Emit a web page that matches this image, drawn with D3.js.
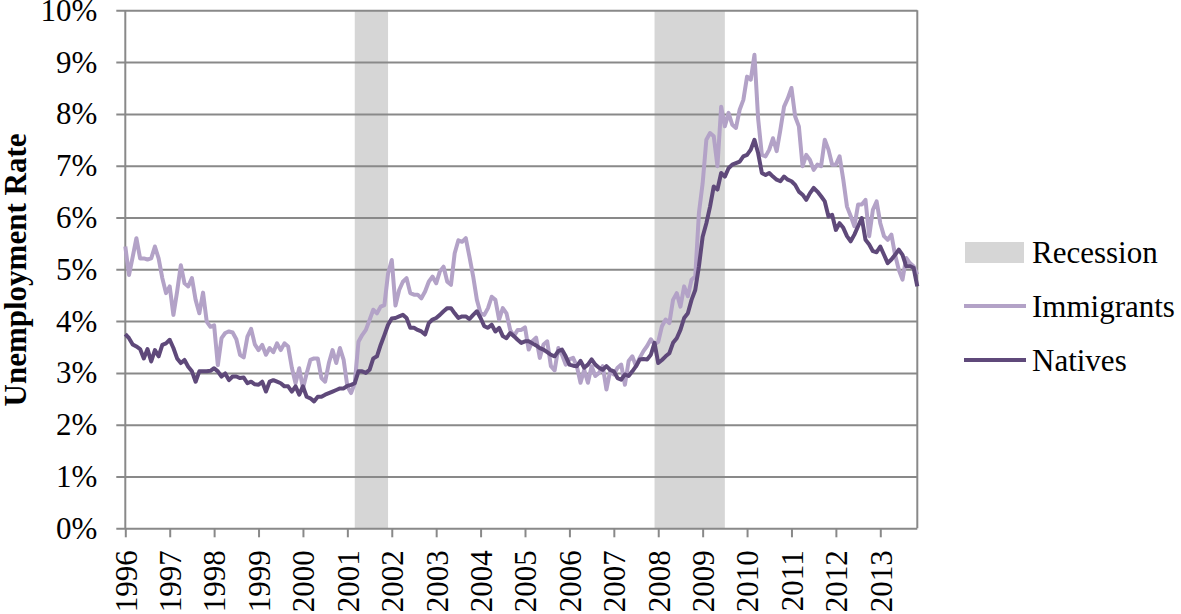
<!DOCTYPE html>
<html>
<head>
<meta charset="utf-8">
<script src="https://cdn.jsdelivr.net/npm/d3@7"></script>
<style>
    body { margin: 0; background: #fff; }
    svg { display: block; font-family: "Liberation Serif", "Times New Roman", serif; }
</style>
</head>
<body>
<svg id="chart" width="1181" height="614"></svg>
<script>
const years = ['1996', '1997', '1998', '1999', '2000', '2001', '2002', '2003', '2004',
    '2005', '2006', '2007', '2008', '2009', '2010', '2011', '2012', '2013'];
const yTicks = [0, 1, 2, 3, 4, 5, 6, 7, 8, 9, 10];
const seriesNames = ['Immigrants', 'Natives'];
const seriesColors = ['#b3a2c7', '#5f497a'];
const recessionColor = '#d6d6d6';

// monthly rates, Jan 1996 .. Nov 2013 (percent)
const immigrants = [
    5.44, 4.89, 5.24, 5.60, 5.21, 5.21, 5.19, 5.21, 5.44, 5.21, 4.83, 4.54,
    4.67, 4.12, 4.57, 5.08, 4.73, 4.67, 4.83, 4.41, 4.15, 4.55, 3.99, 3.89,
    3.92, 3.15, 3.67, 3.77, 3.80, 3.78, 3.65, 3.35, 3.30, 3.70, 3.85, 3.55,
    3.44, 3.54, 3.35, 3.48, 3.40, 3.57, 3.44, 3.57, 3.51, 3.10, 2.80, 3.09,
    2.70, 2.99, 3.25, 3.28, 3.28, 2.90, 2.83, 3.19, 3.44, 3.19, 3.48, 3.25,
    2.74, 2.61, 2.80, 3.60, 3.73, 3.83, 4.02, 4.22, 4.15, 4.28, 4.31, 4.92,
    5.18, 4.30, 4.60, 4.76, 4.83, 4.54, 4.51, 4.51, 4.44, 4.57, 4.76, 4.86,
    4.73, 4.96, 5.05, 4.76, 4.70, 5.31, 5.56, 5.53, 5.60, 5.24, 4.86, 4.41,
    4.15, 4.12, 4.25, 4.47, 4.41, 4.03, 4.25, 4.15, 3.83, 3.71, 3.83, 3.83,
    3.88, 3.45, 3.61, 3.68, 3.29, 3.55, 3.61, 3.13, 3.05, 3.48, 3.35, 3.16,
    3.26, 3.29, 3.13, 2.81, 3.06, 2.81, 3.13, 2.94, 3.00, 3.13, 2.68, 3.03,
    2.97, 3.10, 3.16, 2.77, 3.23, 3.32, 3.13, 3.29, 3.42, 3.52, 3.65, 3.55,
    3.60, 3.90, 4.03, 3.96, 4.41, 4.54, 4.28, 4.67, 4.48, 4.80, 4.86, 6.09,
    6.66, 7.50, 7.63, 7.57, 6.99, 8.14, 7.76, 8.02, 7.79, 7.73, 8.08, 8.27,
    8.72, 8.66, 9.14, 7.90, 7.21, 7.18, 7.31, 7.53, 7.28, 7.69, 8.14, 8.30,
    8.50, 7.95, 7.76, 6.99, 7.21, 7.11, 6.92, 7.02, 6.99, 7.50, 7.31, 7.02,
    7.02, 7.18, 6.73, 6.21, 6.03, 5.83, 6.25, 6.25, 6.34, 5.64, 6.15, 6.31,
    5.89, 5.64, 5.57, 5.67, 5.28, 4.99, 4.80, 5.22, 5.12, 5.06, 4.90
];
const natives = [
    3.75, 3.67, 3.55, 3.51, 3.46, 3.28, 3.46, 3.22, 3.44, 3.32, 3.54, 3.57,
    3.64, 3.48, 3.28, 3.19, 3.25, 3.12, 3.03, 2.83, 3.03, 3.03, 3.03, 3.04,
    3.09, 3.03, 2.93, 2.99, 2.86, 2.93, 2.93, 2.90, 2.91, 2.80, 2.83, 2.78,
    2.77, 2.83, 2.64, 2.83, 2.86, 2.83, 2.80, 2.74, 2.74, 2.64, 2.74, 2.58,
    2.74, 2.54, 2.51, 2.45, 2.54, 2.54, 2.58, 2.61, 2.64, 2.67, 2.70, 2.70,
    2.75, 2.77, 2.80, 3.03, 3.03, 3.00, 3.06, 3.28, 3.32, 3.54, 3.73, 3.93,
    4.05, 4.06, 4.09, 4.12, 4.06, 3.87, 3.87, 3.83, 3.80, 3.74, 3.96, 4.03,
    4.06, 4.12, 4.19, 4.25, 4.25, 4.15, 4.06, 4.09, 4.09, 4.04, 4.12, 4.19,
    4.06, 3.90, 3.87, 3.93, 3.80, 3.87, 3.71, 3.67, 3.77, 3.71, 3.64, 3.58,
    3.61, 3.61, 3.57, 3.53, 3.48, 3.45, 3.40, 3.35, 3.32, 3.42, 3.45, 3.32,
    3.16, 3.14, 3.13, 3.23, 3.10, 3.16, 3.26, 3.16, 3.10, 3.06, 3.13, 3.06,
    3.03, 2.90, 2.87, 2.97, 2.94, 3.03, 3.13, 3.26, 3.27, 3.26, 3.35, 3.58,
    3.19, 3.25, 3.32, 3.38, 3.58, 3.67, 3.83, 4.06, 4.15, 4.41, 4.60, 5.06,
    5.63, 5.89, 6.21, 6.60, 6.54, 6.86, 6.79, 6.95, 7.02, 7.05, 7.08, 7.18,
    7.21, 7.31, 7.50, 7.24, 6.86, 6.82, 6.86, 6.79, 6.73, 6.70, 6.79, 6.73,
    6.70, 6.63, 6.50, 6.44, 6.34, 6.47, 6.57, 6.50, 6.41, 6.31, 6.02, 6.05,
    5.76, 5.89, 5.80, 5.64, 5.54, 5.67, 5.83, 5.99, 5.57, 5.48, 5.35, 5.33,
    5.44, 5.28, 5.12, 5.19, 5.28, 5.38, 5.28, 5.06, 5.06, 5.03, 4.67
];
// NBER recessions, [first month, month after end]
const recessions = [['2001-03', '2001-12'], ['2007-12', '2009-07']];

(function () {
    let svg = d3.select('#chart'),
        margin = {top: 10.3, right: 263.7, bottom: 85.7, left: 125.3},
        width = +svg.attr('width') - margin.left - margin.right,
        height = +svg.attr('height') - margin.top - margin.bottom,
        g = svg.append('g').attr('transform', `translate(${margin.left},${margin.top})`),
        fmt = d3.timeFormat('%Y-%m'),
        gridColor = '#898989'
    ;
    let months = immigrants.map((d, i) => fmt(new Date(+years[0], i, 1)));

    let x = d3.scalePoint().domain(months).range([0, width]),
        y = d3.scaleLinear().domain([0, 10]).range([height, 0])
    ;

    // recession bands
    g.selectAll('.recession')
        .data(recessions)
        .enter().append('rect')
        .attr('class', 'recession')
        .attr('x', d => x(d[0]))
        .attr('width', d => x(d[1]) - x(d[0]))
        .attr('y', 0)
        .attr('height', height)
        .attr('fill', recessionColor);

    // gridlines (with the little outside tick on the left)
    let grid = g.append('g')
        .attr('transform', 'translate(-9,0)')
        .call(d3.axisRight(y).tickValues(yTicks).tickSize(width + 9).tickFormat(''));
    grid.select('.domain').remove();
    grid.selectAll('line').attr('stroke', gridColor).attr('stroke-width', 2);

    // y labels
    let yAxis = g.append('g')
        .call(d3.axisLeft(y).tickValues(yTicks).tickSize(0).tickPadding(28).tickFormat(d => d + '%'))
        .attr('font-family', null)
        .attr('font-size', null);
    yAxis.select('.domain').remove();
    yAxis.selectAll('text')
        .style('font-size', '31px')
        .attr('fill', '#000');

    // frame
    g.append('line').attr('x1', 0).attr('x2', 0).attr('y1', 0).attr('y2', height)
        .attr('stroke', gridColor).attr('stroke-width', 2);
    g.append('line').attr('x1', width).attr('x2', width).attr('y1', 0).attr('y2', height)
        .attr('stroke', gridColor).attr('stroke-width', 2);

    // x axis
    let xAxis = g.append('g')
        .attr('transform', `translate(0,${height})`)
        .call(d3.axisBottom(x)
            .tickValues(years.map(yr => yr + '-01'))
            .tickSize(9)
            .tickFormat(d => d.slice(0, 4)))
        .attr('font-family', null)
        .attr('font-size', null);
    xAxis.select('.domain').remove();
    xAxis.selectAll('line').attr('stroke', gridColor).attr('stroke-width', 2);
    xAxis.selectAll('text')
        .attr('transform', 'rotate(-90)')
        .attr('x', -22)
        .attr('y', 0)
        .attr('dy', '0.35em')
        .style('text-anchor', 'end')
        .style('font-size', '31px')
        .attr('fill', '#000');

    // series
    let line = d3.line()
        .x((d, i) => x(months[i]))
        .y(d => y(d));

    g.selectAll('.series')
        .data([immigrants, natives])
        .enter().append('path')
        .attr('class', 'series')
        .attr('d', d => line(d))
        .attr('fill', 'none')
        .attr('stroke', (d, i) => seriesColors[i])
        .attr('stroke-width', 4)
        .attr('stroke-linejoin', 'round');

    // axis title
    svg.append('text')
        .attr('transform', 'translate(26,270) rotate(-90)')
        .attr('text-anchor', 'middle')
        .style('font-size', '31px')
        .style('font-weight', 'bold')
        .text('Unemployment Rate');

    // legend
    let legend = svg.append('g');
    legend.append('rect')
        .attr('x', 965).attr('y', 242).attr('width', 59).attr('height', 21)
        .attr('fill', recessionColor);
    legend.append('text')
        .attr('x', 1032).attr('y', 252).attr('dy', '0.35em')
        .style('font-size', '31px')
        .text('Recession');

    let items = legend.selectAll('.item')
        .data(seriesNames)
        .enter().append('g')
        .attr('class', 'item')
        .attr('transform', (d, i) => `translate(0,${306 + i * 54})`);
    items.append('line')
        .attr('x1', 964).attr('x2', 1026)
        .attr('stroke', (d, i) => seriesColors[i])
        .attr('stroke-width', 4);
    items.append('text')
        .attr('x', 1032).attr('dy', '0.35em')
        .style('font-size', '31px')
        .text(d => d);
}());
</script>
</body>
</html>
